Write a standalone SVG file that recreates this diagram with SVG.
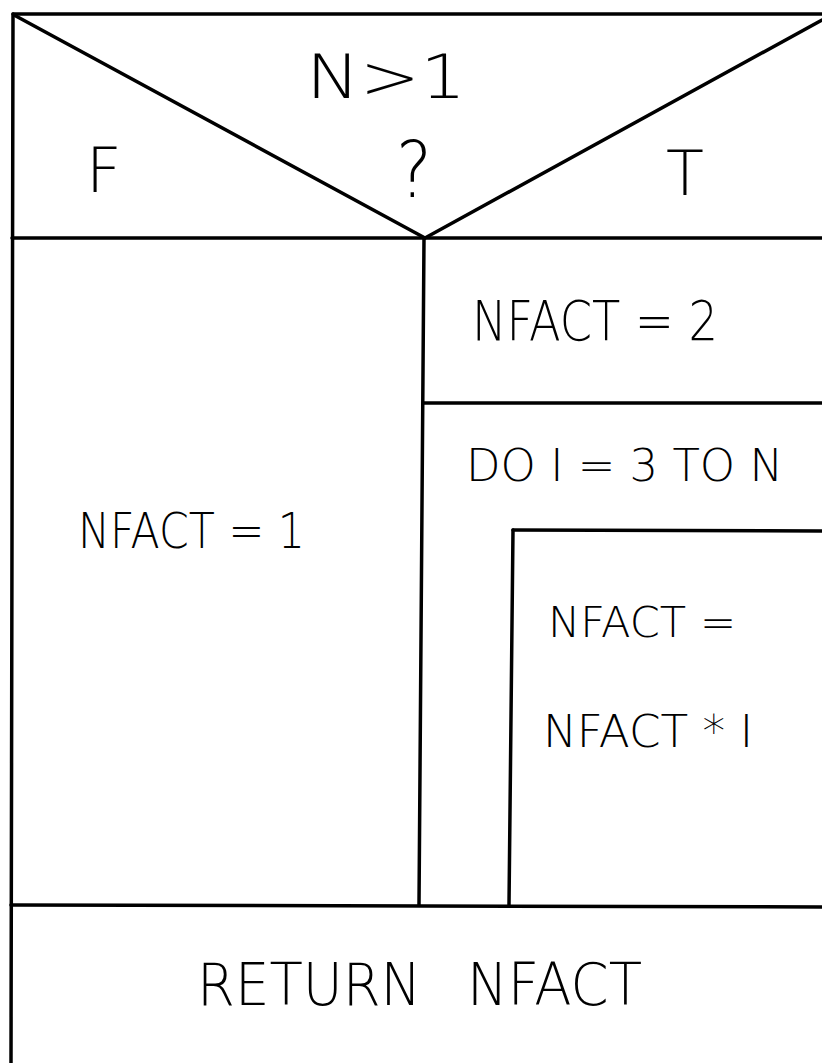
<svg xmlns="http://www.w3.org/2000/svg" width="822" height="1063" viewBox="0 0 822 1063">
<style>
.ln{stroke:#000;stroke-width:3.5;fill:none;stroke-linecap:round}
.t{font-family:"DejaVu Sans","Liberation Sans",sans-serif;font-weight:200;fill:#000}
</style>
<rect width="822" height="1063" fill="#fff"/>
<g id="connectors">
<path class="ln" d="M13 14 L822 14"/>
<path class="ln" d="M13 14 L11 1063"/>
<path class="ln" d="M14 15 L425 238"/>
<path class="ln" d="M425 238 L822 20"/>
<path class="ln" d="M12 238 L822 238"/>
<path class="ln" d="M424 238 L419 905"/>
<path class="ln" d="M424 403 L822 403"/>
<path class="ln" d="M513 530 L822 531"/>
<path class="ln" d="M513 530 L509 905"/>
<path class="ln" d="M11 905 L822 907"/>
</g>
<g id="decision">
<text class="t" x="306" y="98" font-size="60" textLength="160" lengthAdjust="spacingAndGlyphs">N&gt;1</text>
<text class="t" x="396" y="197" font-size="78" textLength="36" lengthAdjust="spacingAndGlyphs">?</text>
<text class="t" x="86" y="192" font-size="62">F</text>
<text class="t" x="666" y="195" font-size="62">T</text>
</g>
<g id="false-branch">
<text class="t" x="78" y="548" font-size="50" textLength="227" lengthAdjust="spacingAndGlyphs">NFACT = 1</text>
</g>
<g id="nfact2">
<text class="t" x="472" y="340" font-size="56" textLength="246" lengthAdjust="spacingAndGlyphs">NFACT = 2</text>
</g>
<g id="loop">
<text class="t" x="466" y="481" font-size="45" textLength="317" lengthAdjust="spacingAndGlyphs">DO I = 3 TO N</text>
</g>
<g id="loop-body">
<text class="t" x="548" y="637" font-size="42" textLength="188" lengthAdjust="spacingAndGlyphs">NFACT =</text>
<text class="t" x="543" y="747" font-size="44" textLength="210" lengthAdjust="spacingAndGlyphs">NFACT * I</text>
</g>
<g id="return">
<text class="t" x="197" y="1005" font-size="58" word-spacing="30" textLength="445" lengthAdjust="spacingAndGlyphs">RETURN NFACT</text>
</g>
</svg>
